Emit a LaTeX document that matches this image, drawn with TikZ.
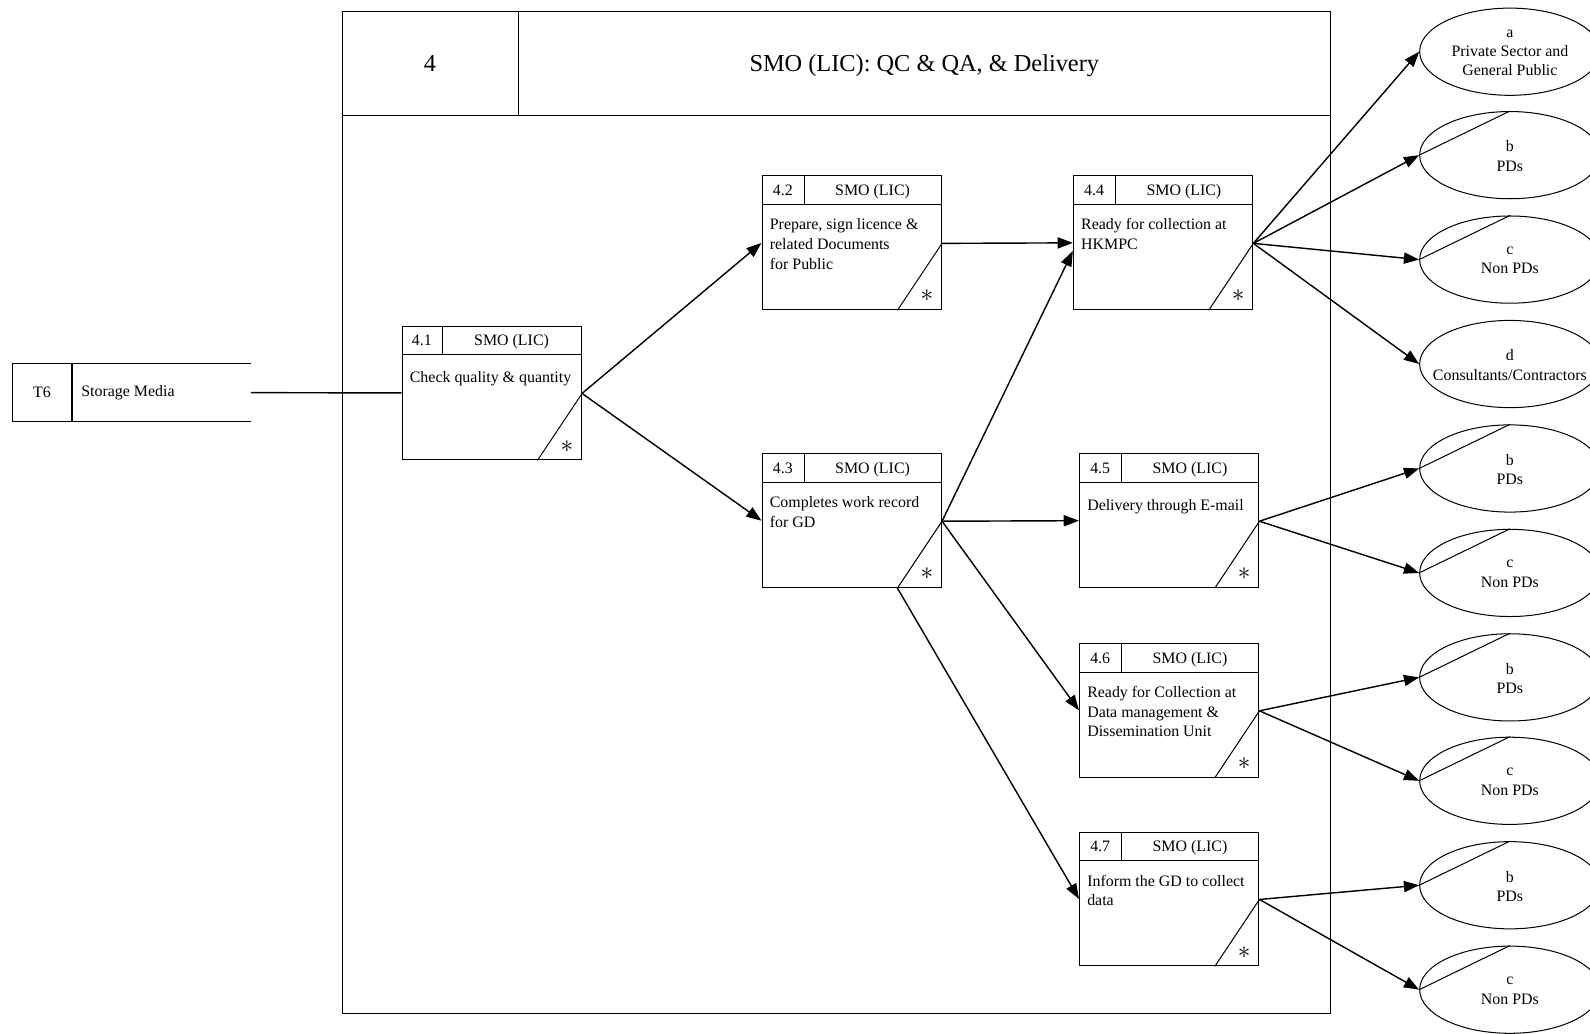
\documentclass[tikz,border=0pt]{standalone}
\usepackage{fontspec}
\setmainfont{Liberation Serif}
\usetikzlibrary{arrows.meta,shapes.geometric,calc}
\newcommand\ProcBox[6]{% name, left, top, number, divider offset, body
  \node[frame, anchor=north west, minimum width=177, minimum height=132, inner sep=0] (#1) at (#2,#3) {};
  \draw[frame] ($(#1.north west)+(0,29)$) -- ($(#1.north east)+(0,29)$);
  \draw[frame] ($(#1.north west)+(#5,0)$) -- ($(#1.north west)+(#5,29)$);
  \node[txt, anchor=base] (#1-n) at ($(#1.north west)+({#5/2},20)$) {#4};
  \node[txt, anchor=base] (#1-r) at ($(#1.north west)+({(#5+177)/2},20)$) {SMO (LIC)};
  \node[body] (#1-b) at ($(#1.north west)+(8,42.5)$) {#6};
  \draw[frame] ($(#1.south east)+(-44,0)$) coordinate (#1-d) -- ($(#1.south east)+(0,-66)$) coordinate (#1-o);
  \node[inner sep=0] (#1-s) at ($(#1.south east)+(-15,-14)$) {\fontsize{25}{25}\selectfont$\ast$};
}
\begin{document}
\begin{tikzpicture}[x=1pt,y=-1pt,
  frame/.style={draw,line width=1pt},
  conn/.style={line width=1.4pt,-{Triangle[length=15pt,width=11pt]}},
  plain/.style={line width=1.4pt},
  txt/.style={font=\fontsize{15.7}{19.5}\selectfont, inner sep=0},
  title/.style={font=\fontsize{24}{28}\selectfont, inner sep=0},
  body/.style={txt, align=left, anchor=north west, execute at begin node=\strut},
  ent/.style={ellipse, draw, line width=1pt, minimum width=178, minimum height=86, inner sep=0},
  etxt/.style={font=\fontsize{15.7}{19}\selectfont, inner sep=0, align=center},
]
\useasboundingbox (0,0) rectangle (1568,1019);

% container
\node[frame, anchor=north west, minimum width=975, minimum height=988, inner sep=0] (cont) at (337,11) {};
\draw[frame] ($(cont.north west)+(0,103)$) -- ($(cont.north east)+(0,103)$);
\draw[frame] ($(cont.north west)+(174,0)$) -- ($(cont.north west)+(174,103)$);
\node[title, anchor=base] (cnum) at ($(cont.north west)+(87,60)$) {4};
\node[title, anchor=base] (ctitle) at ($(cont.north west)+(574.5,60)$) {SMO (LIC): QC \& QA, \& Delivery};

% T6 store
\node[minimum width=235, minimum height=57, anchor=north west, inner sep=0] (t6) at (12,358.5) {};
\draw[frame] (t6.north east) -- (t6.north west) -- (t6.south west) -- (t6.south east);
\draw[frame] ($(t6.north west)+(59,0)$) -- ($(t6.south west)+(59,0)$);
\node[txt] (t6n) at ($(t6.west)+(29.5,0)$) {T6};
\node[txt, anchor=west] (t6t) at ($(t6.west)+(68,0)$) {Storage Media};

% process boxes
\ProcBox{b41}{396}{321}{4.1}{40}{Check quality \& quantity}
\ProcBox{b42}{751}{173}{4.2}{42}{Prepare, sign licence \&\\related Documents\\for Public}
\ProcBox{b43}{751}{447}{4.3}{42}{Completes work record\\for GD}
\ProcBox{b44}{1058}{173}{4.4}{42}{Ready for collection at\\HKMPC}
\ProcBox{b45}{1064}{447}{4.5}{42}{Delivery through E-mail}
\ProcBox{b46}{1064}{634}{4.6}{42}{Ready for Collection at\\Data management \&\\Dissemination Unit}
\ProcBox{b47}{1064}{820}{4.7}{42}{Inform the GD to collect\\data}

% external entities
\node[ent] (ea) at (1489,51) {};
\node[etxt] (ea-t) at ($(ea.center)+(0,1)$) {a\\Private Sector and\\General Public};
\foreach \n/\y/\l/\t in {eb1/153/b/PDs, ec1/256/c/Non PDs, eb2/462/b/PDs, ec2/565/c/Non PDs, eb3/668/b/PDs, ec3/770/c/Non PDs, eb4/873/b/PDs, ec4/976/c/Non PDs}{
  \node[ent] (\n) at (1489,\y) {};
  \draw[frame] (\n.west) -- (\n.north);
  \node[etxt] (\n-t) at ($(\n.center)+(0,1)$) {\l\\\t};
}
\node[ent] (ed) at (1489,359) {};
\node[etxt] (ed-t) at ($(ed.center)+(0,1)$) {d\\Consultants/Contractors};

% connectors
\draw[plain] (t6.east) -- (b41.west);
\draw[conn] (b41-o) -- (b42.west);
\draw[conn] (b41-o) -- (b43.west);
\draw[conn] (b42-o) -- (b44.west);
\draw[conn] (b43-o) -- ($(b44.west)+(0,8)$);
\draw[conn] (b43-o) -- (b45.west);
\draw[conn] (b43-o) -- (b46.west);
\draw[conn] (b43-d) -- (b47.west);
\draw[conn] (b44-o) -- (ea.west);
\draw[conn] (b44-o) -- (eb1.west);
\draw[conn] (b44-o) -- (ec1.west);
\draw[conn] (b44-o) -- (ed.west);
\draw[conn] (b45-o) -- (eb2.west);
\draw[conn] (b45-o) -- (ec2.west);
\draw[conn] (b46-o) -- (eb3.west);
\draw[conn] (b46-o) -- (ec3.west);
\draw[conn] (b47-o) -- (eb4.west);
\draw[conn] (b47-o) -- (ec4.west);
\end{tikzpicture}
\end{document}
